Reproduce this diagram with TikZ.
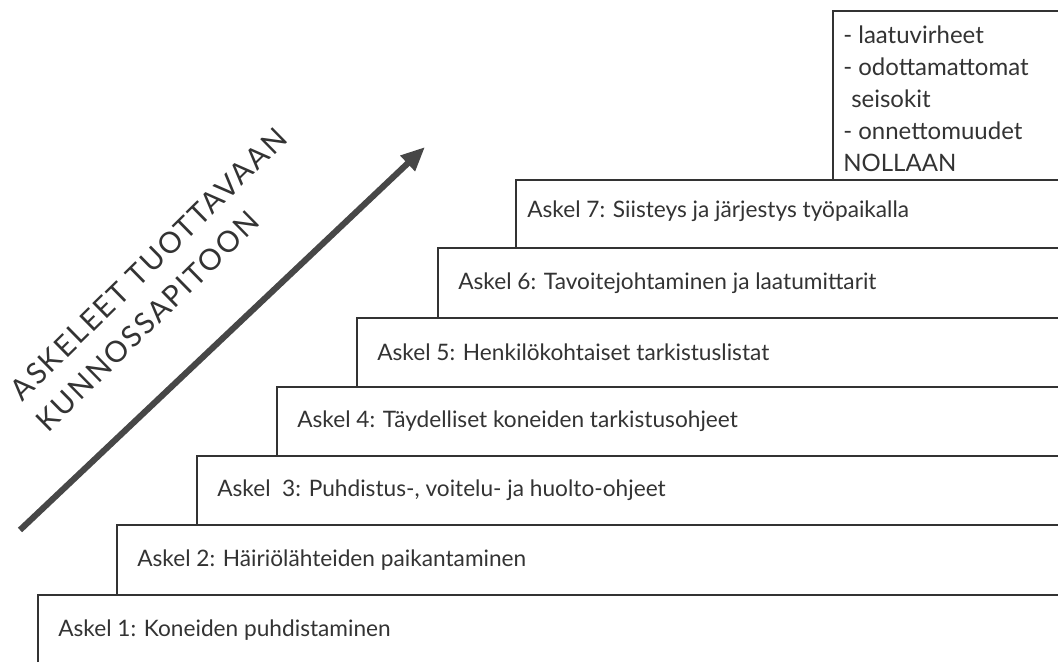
\documentclass[tikz,border=0pt]{standalone}
\usepackage{fontspec}
\setmainfont{Lato}
\newfontfamily\otsikkofont[LetterSpace=7]{Lato}
\usetikzlibrary{
    arrows.meta,
    positioning
}
\tikzset{
    stair/.style={draw=black!80, line width=1.1pt},
    steptext/.style={anchor=west, inner sep=0pt, text=black!80, font=\fontsize{17}{20}\selectfont},
    headline/.style={anchor=west, inner sep=0pt, rotate=44.5, text=black!80, font=\otsikkofont\fontsize{22}{26}\selectfont},
    bigarrow/.style={draw=black!72, line width=4.6pt, -{Triangle[length=18pt, width=15pt]}}
}

\begin{document}
\begin{tikzpicture}[x=0.75pt, y=-0.75pt]
                        \useasboundingbox (0, 0) rectangle (1058, 662);
                        \draw[stair] (833, 180) -- (833, 11) -- (1058, 11);
                        \draw[stair] (516, 248) -- (516, 180) -- (1058, 180);
                        \draw[stair] (438, 318) -- (438, 248) -- (1058, 248);
                        \draw[stair] (357, 387) -- (357, 318) -- (1058, 318);
                        \draw[stair] (277, 456) -- (277, 387) -- (1058, 387);
                        \draw[stair] (197, 525) -- (197, 456) -- (1058, 456);
                        \draw[stair] (117, 595) -- (117, 525) -- (1058, 525);
                        \draw[stair] (38, 662) -- (38, 595) -- (1058, 595);
                        \node[steptext] (askel7) at (527, 211) {Askel 7: Siisteys ja järjestys työpaikalla};
                        \node[steptext] (askel6) at (458, 283) {Askel 6: Tavoitejohtaminen ja laatumittarit};
                        \node[steptext] (askel5) at (377, 352) {Askel 5: Henkilökohtaiset tarkistuslistat};
                        \node[steptext] (askel4) at (297, 421) {Askel 4: Täydelliset koneiden tarkistusohjeet};
                        \node[steptext] (askel3) at (217, 490) {Askel\ \ 3: Puhdistus-, voitelu- ja huolto-ohjeet};
                        \node[steptext] (askel2) at (137, 560) {Askel 2: Häiriölähteiden paikantaminen};
                        \node[steptext] (askel1) at (58, 630) {Askel 1: Koneiden puhdistaminen};
                        \node[steptext, anchor=north west, align=left, font=\fontsize{18}{24}\selectfont] (nollaan) at (843, 26)
                            {- laatuvirheet\\- odottamattomat\\\hspace*{6pt}seisokit\\- onnettomuudet\\NOLLAAN};
                        \node[headline] (otsikko1) at (15, 395) {ASKELEET TUOTTAVAAN};
                        \node[headline] (otsikko2) at (41, 426) {KUNNOSSAPITOON};
                        \coordinate (alku) at (20, 530);
                        \coordinate (karki) at (425, 147);
                        \draw[bigarrow] (alku) -- (karki);
                    \end{tikzpicture}
\end{document}
